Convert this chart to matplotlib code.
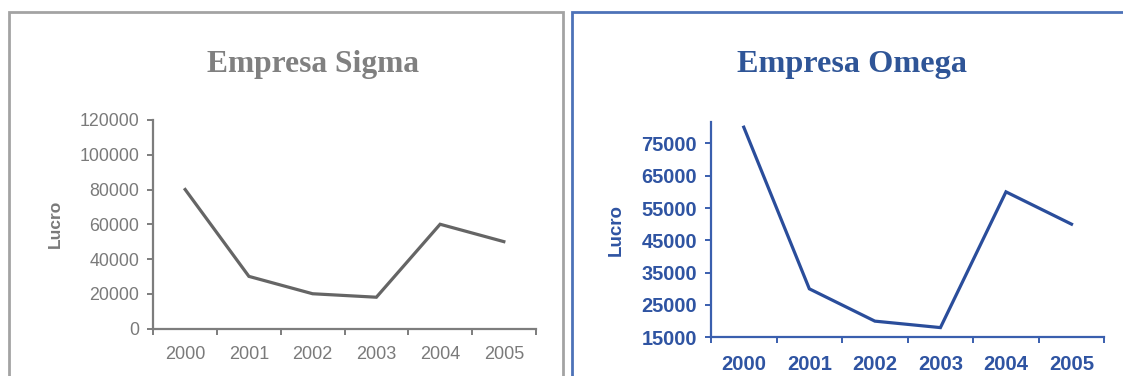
import numpy as np
import matplotlib
matplotlib.use("Agg")
import matplotlib.pyplot as plt
from matplotlib.patches import Rectangle

# Profit per year for the two companies
years = ["2000", "2001", "2002", "2003", "2004", "2005"]
lucro_sigma = [80000, 30000, 20000, 18000, 60000, 50000]
lucro_omega = [80000, 30000, 20000, 18000, 60000, 50000]

sigma_yticks = [0, 20000, 40000, 60000, 80000, 100000, 120000]
omega_yticks = [15000, 25000, 35000, 45000, 55000, 65000, 75000]

W, H = 1123, 376
fig = plt.figure(figsize=(W / 100, H / 100), dpi=100)
fig.patch.set_facecolor("white")


def fx(px):
    return px / W


def fy(py):
    return 1 - py / H


# panel frames
fig.add_artist(Rectangle((fx(9.3), fy(420)), fx(563.3 - 9.3), (420 - 11.7) / H,
                         transform=fig.transFigure, fill=False,
                         edgecolor="#a3a3a3", linewidth=2.0, clip_on=False))
fig.add_artist(Rectangle((fx(572.3), fy(420)), fx(1200 - 572.3), (420 - 11.7) / H,
                         transform=fig.transFigure, fill=False,
                         edgecolor="#4d72b8", linewidth=2.0, clip_on=False))


def style_axes(ax, values, yticks, ylim, line_c, axis_c, text_c,
               tick_fs, xtick_fs, weight, label_fs, label_x, line_w, xpad):
    x = np.arange(len(years))
    ax.plot(x, values, color=line_c, linewidth=line_w, solid_joinstyle="miter",
            clip_on=False)
    ax.set_xlim(-0.5, len(years) - 0.5)
    ax.set_ylim(*ylim)
    for s in ("top", "right"):
        ax.spines[s].set_visible(False)
    for s in ("left", "bottom"):
        ax.spines[s].set_color(axis_c)
        ax.spines[s].set_linewidth(1.6)
    ax.set_yticks(yticks)
    ax.set_yticklabels([str(v) for v in yticks], fontsize=tick_fs,
                       color=text_c, fontweight=weight,
                       fontfamily="Liberation Sans")
    ax.tick_params(axis="y", direction="out", length=4.5, width=1.4,
                   color=axis_c, pad=5.5)
    # year boundaries get tick marks, year centres carry the labels
    ax.set_xticks(np.arange(-0.5, len(years), 1.0))
    ax.set_xticklabels([])
    ax.set_xticks(x, minor=True)
    ax.set_xticklabels(years, minor=True, fontsize=xtick_fs, color=text_c,
                       fontweight=weight, fontfamily="Liberation Sans")
    ax.tick_params(axis="x", which="major", direction="out", length=4.2,
                   width=1.4, color=axis_c)
    ax.tick_params(axis="x", which="minor", length=0, pad=xpad)
    ax.set_ylabel("Lucro", fontsize=label_fs, fontweight="bold", color=text_c,
                  fontfamily="Liberation Sans")
    ax.yaxis.set_label_coords(label_x, 0.5)
    ax.yaxis.label.set_va("center")
    ax.set_facecolor("none")


# Empresa Sigma (grey)
ax1 = fig.add_axes([fx(153.3), fy(328.5), fx(535.7 - 153.3), (328.5 - 120) / H])
style_axes(ax1, lucro_sigma, sigma_yticks, (0, 120000),
           line_c="#656565", axis_c="#7d7d7d", text_c="#7a7a7a",
           tick_fs=12.8, xtick_fs=13, weight="normal", label_fs=12.5,
           label_x=(55 - 153.3) / (535.7 - 153.3), line_w=2.3, xpad=12.5)

# Empresa Omega (blue)
ax2 = fig.add_axes([fx(711), fy(337.3), fx(1104.3 - 711), (337.3 - 121.7) / H])
style_axes(ax2, lucro_omega, omega_yticks, (15000, 81700),
           line_c="#2a4d9b", axis_c="#3a5fae", text_c="#2f54a2",
           tick_fs=14.4, xtick_fs=14.6, weight="bold", label_fs=13.5,
           label_x=(616.7 - 711) / (1104.3 - 711), line_w=2.3, xpad=12.8)

fig.text(fx(312.7), fy(71.7), "Empresa Sigma", ha="center", va="baseline",
         fontsize=22.7, fontweight="bold", color="#808080",
         fontfamily="Liberation Serif")
fig.text(fx(851.7), fy(72.3), "Empresa Omega", ha="center", va="baseline",
         fontsize=23.2, fontweight="bold", color="#2f5597",
         fontfamily="Liberation Serif")

fig.savefig("out.png", dpi=100, facecolor="white")
